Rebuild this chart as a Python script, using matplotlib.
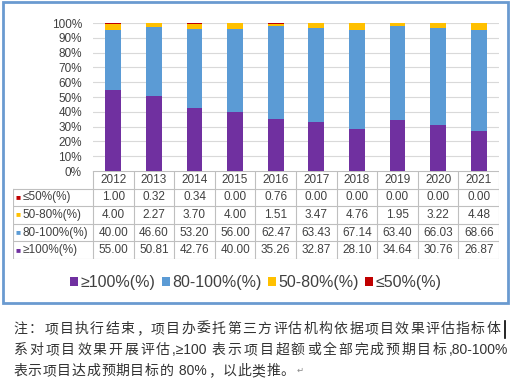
import matplotlib.pyplot as plt
import numpy as np
from matplotlib.patches import Patch, Rectangle

# data
years = ['2012', '2013', '2014', '2015', '2016', '2017', '2018', '2019', '2020', '2021']
le50 = [1.00, 0.32, 0.34, 0.00, 0.76, 0.00, 0.00, 0.00, 0.00, 0.00]
p50_80 = [4.00, 2.27, 3.70, 4.00, 1.51, 3.47, 4.76, 1.95, 3.22, 4.48]
p80_100 = [40.00, 46.60, 53.20, 56.00, 62.47, 63.43, 67.14, 63.40, 66.03, 68.66]
ge100 = [55.00, 50.81, 42.76, 40.00, 35.26, 32.87, 28.10, 34.64, 30.76, 26.87]

names = ['≥100%(%)', '80-100%(%)', '50-80%(%)', '≤50%(%)']
colors = ['#7030A0', '#5B9BD5', '#FFC000', '#C00000']
series = [ge100, p80_100, p50_80, le50]

notes = ['注：项目执行结束，项目办委托第三方评估机构依据项目效果评估指标体',
         '系对项目效果开展评估,≥100 表示项目超额或全部完成预期目标,80-100%',
         '表示项目达成预期目标的 80%，以此类推。']

font = ['Liberation Sans', 'DejaVu Sans']
cjk = ['Noto Sans CJK SC', 'DejaVu Sans']
txt = '#404040'
grid = '#D9D9D9'

W, H = 512, 384
fig = plt.figure(figsize=(5.12, 3.84), dpi=100)

def box(x0, y0, x1, y1):
    return [x0 / W, 1 - y1 / H, (x1 - x0) / W, (y1 - y0) / H]

# outer blue frame
fig.patches.append(Rectangle((3 / W, 1 - 303 / H), 505 / W, 301 / H, transform=fig.transFigure,
                             fill=False, edgecolor='#6A9AD0', linewidth=2))

# bars
ax = fig.add_axes(box(93, 23, 499, 171))
x = np.arange(len(years))
bottom = np.zeros(len(years))
for vals, c, n in zip(series, colors, names):
    ax.bar(x, vals, 0.39, bottom=bottom, color=c, label=n, zorder=3)
    bottom += np.array(vals)
ax.set_xlim(-0.5, len(years) - 0.5)
ax.set_ylim(0, 100)
ax.set_yticks(np.arange(0, 101, 10))
ax.set_yticklabels([f'{v}%' for v in range(0, 101, 10)], fontsize=8.5, color=txt, family=font)
ax.set_xticks([])
ax.tick_params(axis='y', length=0, pad=8)
ax.grid(axis='y', color=grid, linewidth=0.8, zorder=0)
for s in ax.spines.values():
    s.set_visible(False)

# data table under the plot
lab_w = 80 / 40.6
tax = fig.add_axes(box(13, 171, 499, 259))
tax.set_xlim(-0.5 - lab_w, len(years) - 0.5)
tax.set_ylim(5, 0)
tax.axis('off')
tcol = '#BFBFBF'
tax.plot([-0.5, len(years) - 0.5], [0, 0], color=tcol, lw=0.8)
for r in range(1, 6):
    tax.plot([-0.5 - lab_w, len(years) - 0.5], [r, r], color=tcol, lw=0.8)
tax.plot([-0.5 - lab_w] * 2, [1, 5], color=tcol, lw=0.8)
for i in range(len(years) + 1):
    tax.plot([i - 0.5] * 2, [0, 5], color=tcol, lw=0.8)
for i, y in enumerate(years):
    tax.text(i, 0.5, y, ha='center', va='center', fontsize=8.5, color=txt, family=font)
rows = list(zip(series, colors, names))[::-1]
for r, (vals, c, n) in enumerate(rows, start=1):
    tax.text(-0.5 - lab_w + 0.06, r + 0.5, '■', ha='left', va='center', fontsize=6, color=c, family=font)
    tax.text(-0.5 - lab_w + 0.24, r + 0.5, n, ha='left', va='center', fontsize=8.5, color=txt, family=font)
    for i, v in enumerate(vals):
        tax.text(i, r + 0.5, f'{v:.2f}', ha='center', va='center', fontsize=8.5, color=txt, family=font)

# legend
handles = [Patch(facecolor=c, label=n) for c, n in zip(colors, names)]
fig.legend(handles=handles, loc='center', bbox_to_anchor=(256 / W, 1 - 283 / H), ncol=4, frameon=False,
           prop={'family': font, 'size': 11.5}, labelcolor=txt, handlelength=0.5, handleheight=0.5,
           handletextpad=0.15, columnspacing=0.4)

# note under the chart: full-width chars on a fixed pitch, narrow runs measured
renderer = fig.canvas.get_renderer()

def split_runs(line):
    out, run = [], ''
    for ch in line:
        if ord(ch) < 128 or ch == '≥':
            run += ch
        else:
            if run:
                out.append(run)
                run = ''
            out.append(ch)
    if run:
        out.append(run)
    return out

def narrow_width(run):
    t = fig.text(0, 0, run, fontsize=10, family=font)
    w = t.get_window_extent(renderer).width + 2
    t.remove()
    return w

targets = [501, 509, None]
ys = [329, 350, 371]
for k, line in enumerate(notes):
    parts = split_runs(line)
    wide = [p for p in parts if len(p) == 1 and not (ord(p) < 128 or p == '≥')]
    nar = [p for p in parts if p not in wide]
    if targets[k]:
        pitch = (targets[k] - 13 - sum(narrow_width(p) for p in nar)) / len(wide)
    else:
        pitch = 14.6
    yy = 1 - ys[k] / H
    xpos = 13.0
    for p in parts:
        if p in wide:
            fig.text((xpos + pitch / 2) / W, yy, p, ha='center', va='center', fontsize=10, color='#333333',
                     family=cjk)
            xpos += pitch
        else:
            fig.text((xpos + 1) / W, yy, p, ha='left', va='center', fontsize=10, color='#333333', family=font)
            xpos += narrow_width(p)
    if k == 2:
        fig.text((xpos + 2) / W, yy, '↵', ha='left', va='center', fontsize=6, color='#888888', family=font)

# text cursor at the end of the first note line
fig.add_artist(plt.Line2D([505 / W, 505 / W], [1 - 321 / H, 1 - 338 / H], color='black', lw=1.2))

fig.savefig('out.png', dpi=100)
